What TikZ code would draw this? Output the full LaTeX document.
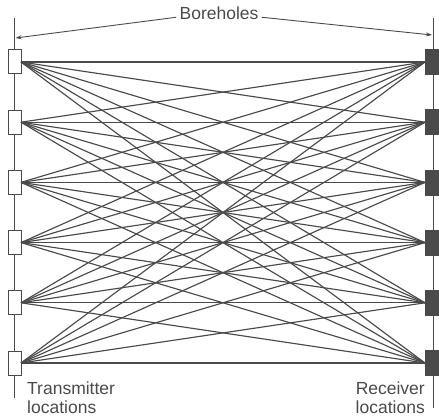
\documentclass[tikz,border=0pt]{standalone}
\usepackage{fontspec}
\setmainfont{Liberation Sans}
\usetikzlibrary{arrows.meta}
\definecolor{ink}{HTML}{4A4A4A}
\begin{document}
\begin{tikzpicture}[x=1pt,y=-1pt,
  bore/.style={draw=ink,line width=1pt},
  ray/.style={draw=ink,line width=1.15pt},
  tx/.style={draw=ink,fill=white,line width=1pt,minimum width=13pt,minimum height=24pt,inner sep=0pt,outer sep=0pt},
  rx/.style={draw=ink,fill=ink,line width=0.5pt,minimum width=16pt,minimum height=25pt,inner sep=0pt,outer sep=0pt},
  lbl/.style={text=ink,inner sep=0pt,font=\fontsize{17.5}{20}\selectfont},
  dim/.style={draw=ink,line width=0.9pt,-{Stealth[length=6pt,width=4pt]}}]
\useasboundingbox (0,0) rectangle (439,417);
\coordinate (lt) at (14,18); \coordinate (lb) at (14,398);
\coordinate (rt) at (433,18); \coordinate (rb) at (433,408);
\draw[bore] (lt) -- (lb);
\draw[bore] (rt) -- (rb);
\foreach \i in {0,...,5}{
  \pgfmathsetmacro\yy{62+60.2*\i}
  \node[tx] (t\i) at (14.5,\yy) {};
  \node[rx] (r\i) at (433,\yy) {};
}
\foreach \i in {0,...,5}{
  \foreach \j in {0,...,5}{
    \draw[ray] (t\i.east) -- (r\j.west);
  }
}
\node[lbl,anchor=base] (bh) at (219,19.5) {Boreholes};
\coordinate (al) at (15.5,38);
\coordinate (ar) at (432,35);
\draw[dim] ([xshift=-3pt,yshift=-4pt]bh.west) -- (al);
\draw[dim] ([xshift=3pt,yshift=-4pt]bh.east) -- (ar);
\node[lbl,anchor=base west] (tl1) at (27,394) {Transmitter};
\node[lbl,anchor=base west] (tl2) at (27,413.5) {locations};
\node[lbl,anchor=base east] (rl1) at (425,394) {Receiver};
\node[lbl,anchor=base east] (rl2) at (425,413.5) {locations};
\end{tikzpicture}
\end{document}
